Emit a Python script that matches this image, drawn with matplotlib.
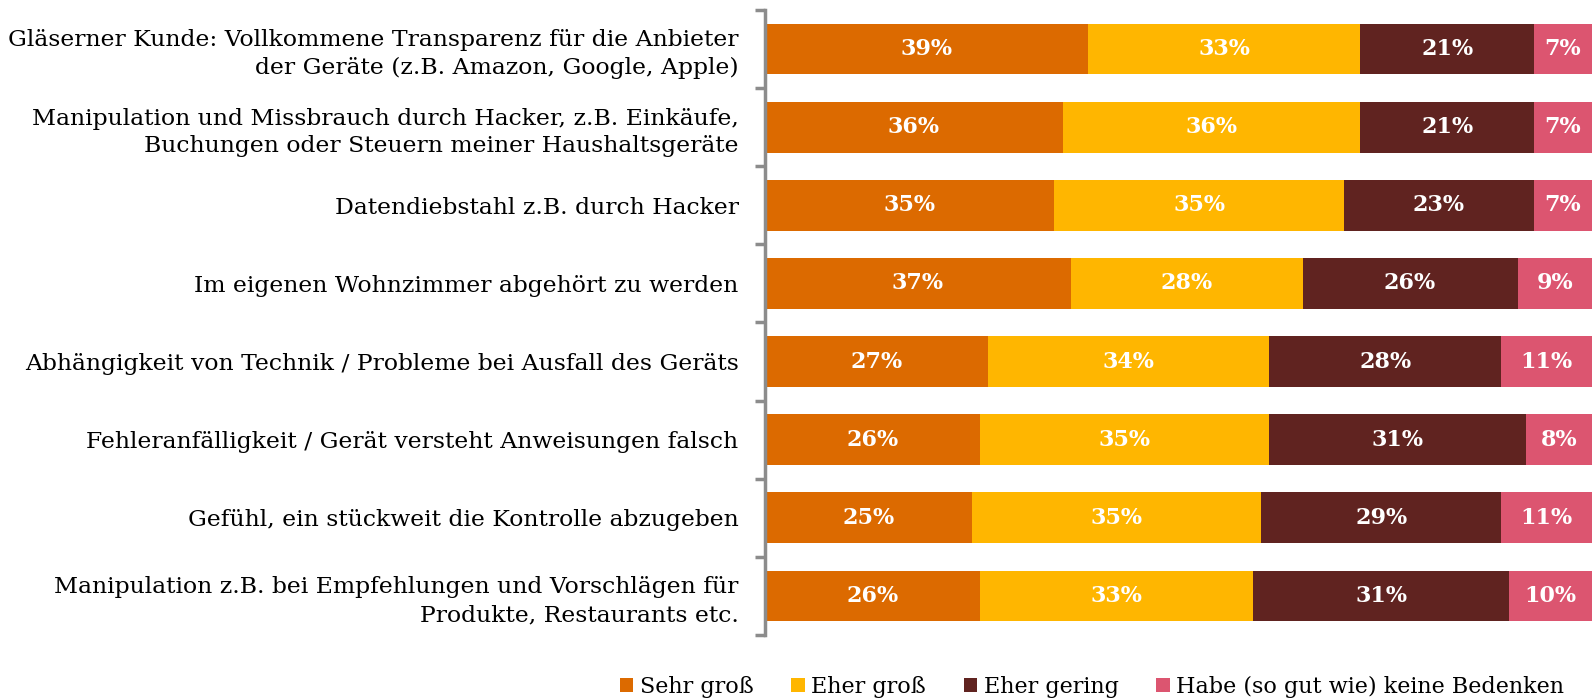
import matplotlib.pyplot as plt
import numpy as np

categories = [
    "Gläserner Kunde: Vollkommene Transparenz für die Anbieter\nder Geräte (z.B. Amazon, Google, Apple)",
    "Manipulation und Missbrauch durch Hacker, z.B. Einkäufe,\nBuchungen oder Steuern meiner Haushaltsgeräte",
    "Datendiebstahl z.B. durch Hacker",
    "Im eigenen Wohnzimmer abgehört zu werden",
    "Abhängigkeit von Technik / Probleme bei Ausfall des Geräts",
    "Fehleranfälligkeit / Gerät versteht Anweisungen falsch",
    "Gefühl, ein stückweit die Kontrolle abzugeben",
    "Manipulation z.B. bei Empfehlungen und Vorschlägen für\nProdukte, Restaurants etc.",
]
series_names = ["Sehr groß", "Eher groß", "Eher gering", "Habe (so gut wie) keine Bedenken"]
sehr_gross = [39, 36, 35, 37, 27, 26, 25, 26]
eher_gross = [33, 36, 35, 28, 34, 35, 35, 33]
eher_gering = [21, 21, 23, 26, 28, 31, 29, 31]
keine = [7, 7, 7, 9, 11, 8, 11, 10]

colors = ["#DC6A00", "#FFB600", "#602320", "#DC5570"]

plt.rcParams['font.family'] = ['DejaVu Serif']

fig = plt.figure(figsize=(15.92, 6.98), dpi=100)
ax = fig.add_axes([0.4805, 0.0903, 0.5195, 0.8954])

y = np.arange(len(categories))
left = np.zeros(len(categories))
for name, vals, c in zip(series_names, [sehr_gross, eher_gross, eher_gering, keine], colors):
    vals = np.array(vals)
    ax.barh(y, vals, left=left, height=0.65, color=c, label=name)
    for yi, l, v in zip(y, left, vals):
        ax.text(l + v / 2, yi, f"{v}%", ha='center', va='center', color='white',
                fontsize=16, fontweight='bold')
    left += vals

ax.set_xlim(0, 100)
ax.set_ylim(len(categories) - 0.5, -0.5)
ax.set_yticks(y)
ax.set_yticklabels(categories, fontsize=16.9, linespacing=1.33)
ax.set_yticks(np.arange(-0.5, len(categories)), minor=True)
ax.tick_params(axis='y', which='major', length=0, pad=19)
ax.tick_params(axis='y', which='minor', length=7, width=2.5, color='#8c8c8c')
for lbl in ax.get_yticklabels():
    lbl.set_horizontalalignment('right')
ax.set_xticks([])
for s in ['top', 'right', 'bottom']:
    ax.spines[s].set_visible(False)
ax.spines['left'].set_color('#8c8c8c')
ax.spines['left'].set_linewidth(2.5)

fig.legend(loc='center', bbox_to_anchor=(0.686, 0.016), ncol=4, frameon=False,
           fontsize=16, handlelength=0.6, handleheight=0.6, columnspacing=1.7,
           handletextpad=0.3)

fig.savefig('out.png', dpi=100)
